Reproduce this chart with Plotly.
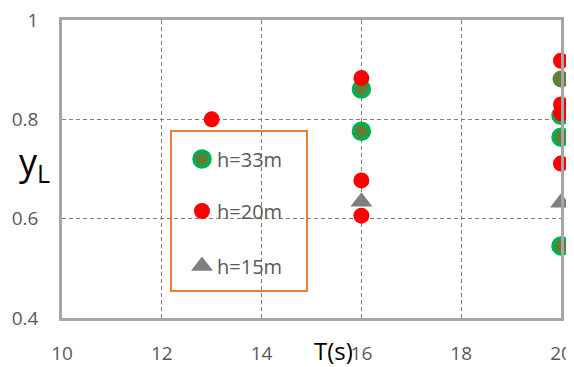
import plotly.graph_objects as go

# ---- data ----
h33_T = [16, 16, 20, 20, 20]
h33_y = [0.861, 0.776, 0.808, 0.764, 0.545]
h33_plain_T = [20]
h33_plain_y = [0.881]
h20_T = [13, 16, 16, 16, 20, 20, 20, 20]
h20_y = [0.80, 0.883, 0.677, 0.606, 0.918, 0.830, 0.812, 0.711]
h15_T = [16, 20]
h15_y = [0.634, 0.632]
x_ticks = [10, 12, 14, 16, 18, 20]
y_ticks = [0.4, 0.6, 0.8, 1.0]
y_tick_labels = ["0.4", "0.6", "0.8", "1"]
legend_names = ["h=33m", "h=20m", "h=15m"]

GREEN = "#00B050"
OLIVE = "#5E7F38"
RED = "#FF0000"
GRAY = "#7F7F7F"
TXT = "#595959"
FONT = "Open Sans"

# page is rendered with the browser's default 8px body margin
OFF = 8
PAGE_W, PAGE_H = 574, 367
PL, PR, PT, PB = 62, 561, 20, 318  # plot area in page pixels
W, H = PAGE_W - OFF, PAGE_H - OFF
L, T = PL - OFF, PT - OFF
R, B = PAGE_W - PR, PAGE_H - PB


def px2x(px):
    return (px - PL) / (PR - PL)


def px2y(py):
    return (PB - py) / (PB - PT)


fig = go.Figure()

green_marker = dict(size=16, color=OLIVE, line=dict(color=GREEN, width=3.5))
red_marker = dict(size=16, color=RED, line=dict(width=0))
tri_marker = dict(size=19, color=GRAY, symbol="triangle-up", line=dict(width=0))

fig.add_trace(go.Scatter(x=h33_T, y=h33_y, mode="markers", marker=green_marker,
                         showlegend=False, cliponaxis=False))
fig.add_trace(go.Scatter(x=h33_plain_T, y=h33_plain_y, mode="markers",
                         marker=dict(size=17, color=OLIVE, line=dict(width=0)),
                         showlegend=False, cliponaxis=False))
fig.add_trace(go.Scatter(x=h20_T, y=h20_y, mode="markers", marker=red_marker,
                         showlegend=False, cliponaxis=False))
fig.add_trace(go.Scatter(x=h15_T, y=h15_y, mode="markers", marker=tri_marker,
                         showlegend=False, cliponaxis=False))

# custom legend on an overlay axis (0..1 = plot area)
leg_rows_py = [159, 211, 266]
leg_markers = [green_marker, red_marker, tri_marker]
for name, py, mk in zip(legend_names, leg_rows_py, leg_markers):
    fig.add_trace(go.Scatter(x=[px2x(202)], y=[px2y(py)], mode="markers", marker=mk,
                             xaxis="x2", yaxis="y2", showlegend=False, cliponaxis=False))
    fig.add_annotation(x=px2x(215), y=px2y(py), xref="paper", yref="paper",
                       text=name, showarrow=False, xanchor="left", yanchor="middle",
                       font=dict(family=FONT, size=20, color=TXT))

fig.add_shape(type="rect", xref="paper", yref="paper",
              x0=px2x(171), x1=px2x(307), y0=px2y(291), y1=px2y(131),
              line=dict(color="#ED7D31", width=2), fillcolor="white", layer="between")

fig.add_annotation(x=px2x(333), y=px2y(351), xref="paper", yref="paper",
                   text="T(s)", showarrow=False, xanchor="center", yanchor="middle",
                   font=dict(family=FONT, size=24, color="black"))
fig.add_annotation(x=px2x(34), y=px2y(163), xref="paper", yref="paper",
                   text="y<sub>L</sub>", showarrow=False, xanchor="center", yanchor="middle",
                   font=dict(family=FONT, size=36, color="black"))

axis_common = dict(showline=True, linecolor="#A6A6A6", linewidth=2.5, mirror=True,
                   showgrid=True, gridcolor="#808080", griddash="4px,3px", gridwidth=1,
                   zeroline=False, ticks="", automargin=False, ticklabeloverflow="allow",
                   tickfont=dict(family=FONT, size=19, color=TXT))

fig.update_layout(
    width=W, height=H,
    margin=dict(l=L, r=R, t=T, b=B),
    paper_bgcolor="white", plot_bgcolor="white",
    showlegend=False,
    xaxis=dict(range=[10, 20], tickvals=x_ticks, ticklabelstandoff=16, **axis_common),
    yaxis=dict(range=[0.4, 1.0], tickvals=y_ticks, ticktext=y_tick_labels,
               ticklabelstandoff=17, **axis_common),
    xaxis2=dict(range=[0, 1], overlaying="x", visible=False, fixedrange=True),
    yaxis2=dict(range=[0, 1], overlaying="y", visible=False, fixedrange=True),
)

fig.write_html("out.html")
